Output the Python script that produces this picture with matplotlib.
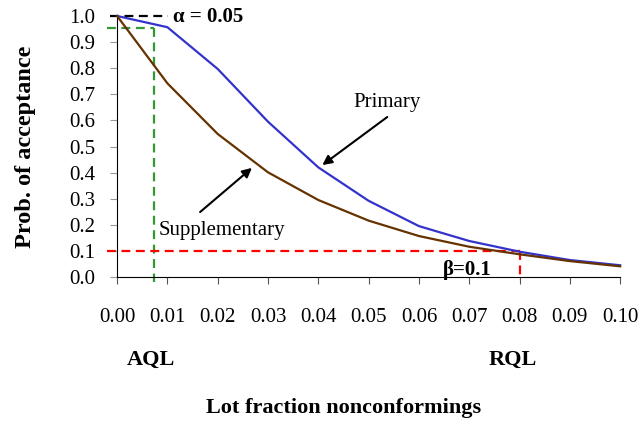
import numpy as np
import matplotlib
matplotlib.use("Agg")
import matplotlib.pyplot as plt

plt.rcParams['font.family'] = ['Liberation Serif', 'DejaVu Serif']

# lot fraction nonconforming and OC curves
p = [0.00, 0.01, 0.02, 0.03, 0.04, 0.05, 0.06, 0.07, 0.08, 0.09, 0.10]
primary = [1.0, 0.957, 0.797, 0.595, 0.42, 0.292, 0.195, 0.138, 0.097, 0.065, 0.045]
supplementary = [1.0, 0.742, 0.548, 0.401, 0.295, 0.216, 0.157, 0.116, 0.087, 0.061, 0.041]

aql = 0.0073
rql = 0.08
alpha_pa = 0.953
beta_pa = 0.1

x_ticks = np.arange(0, 0.1001, 0.01)
y_ticks = np.arange(0, 1.001, 0.1)

fig = plt.figure(figsize=(6.4, 4.21), dpi=100)
ax = fig.add_axes([0.183, 0.342, 0.786, 0.62])

ax.plot(p, primary, color='#3333CC', lw=1.6, clip_on=False, zorder=3)
ax.plot(p, supplementary, color='#663300', lw=1.6, clip_on=False, zorder=3)

# reference lines
dash = (0, (4, 2.5))
ax.plot([-0.0014, 0.0101], [1.0, 1.0], color='black', lw=1.6, ls=dash, clip_on=False, zorder=2)
ax.plot([-0.002, aql], [alpha_pa, alpha_pa], color='#339933', lw=1.6, ls=dash, clip_on=False)
ax.plot([aql, aql], [alpha_pa, -0.02], color='#339933', lw=1.6, ls=dash, clip_on=False)
ax.plot([-0.002, rql], [beta_pa, beta_pa], color='#FF0000', lw=1.6, ls=dash, clip_on=False)
ax.plot([rql, rql], [beta_pa, -0.012], color='#FF0000', lw=1.6, ls=dash, clip_on=False)

ax.text(0.0111, 0.995, 'α = 0.05', fontsize=15, fontweight='bold', va='center', ha='left')
ax.text(0.0648, 0.027, 'β=0.1', fontsize=15, fontweight='bold', va='center', ha='left')

# arrows pointing at the curves
arrow = dict(arrowstyle='-|>', color='black', lw=1.5, shrinkA=0, shrinkB=0, mutation_scale=14)
ax.text(0.0537, 0.67, 'Primary', fontsize=15, ha='center', va='center')
ax.annotate('', xy=(0.0408, 0.429), xytext=(0.0537, 0.613), arrowprops=arrow)
ax.annotate('', xy=(0.0268, 0.418), xytext=(0.0165, 0.249), arrowprops=arrow)
ax.text(0.0082, 0.18, 'Supplementary', fontsize=15, ha='left', va='center')

ax.set_xlim(0, 0.10)
ax.set_ylim(0, 1.0)
ax.set_xticks(x_ticks)
ax.set_xticklabels(['%.2f' % v for v in x_ticks])
ax.set_yticks(y_ticks)
ax.set_yticklabels(['%.1f' % v for v in y_ticks])
ax.tick_params(axis='x', direction='out', length=5, color='#555555', pad=17, labelsize=15)
ax.tick_params(axis='y', direction='out', length=5, color='#999999', pad=11, labelsize=15)

ax.spines['top'].set_visible(False)
ax.spines['right'].set_visible(False)

ax.set_ylabel('Prob. of acceptance', fontsize=17.5, fontweight='bold')
ax.yaxis.set_label_coords(-0.161, 0.5)

ax.text(0.0068, -0.318, 'AQL', fontsize=16, fontweight='bold', ha='center', va='center')
ax.text(0.0787, -0.318, 'RQL', fontsize=16, fontweight='bold', ha='center', va='center')
ax.text(0.0451, -0.502, 'Lot fraction nonconformings', fontsize=16, fontweight='bold',
        ha='center', va='center')

fig.savefig('out.png', dpi=100)
